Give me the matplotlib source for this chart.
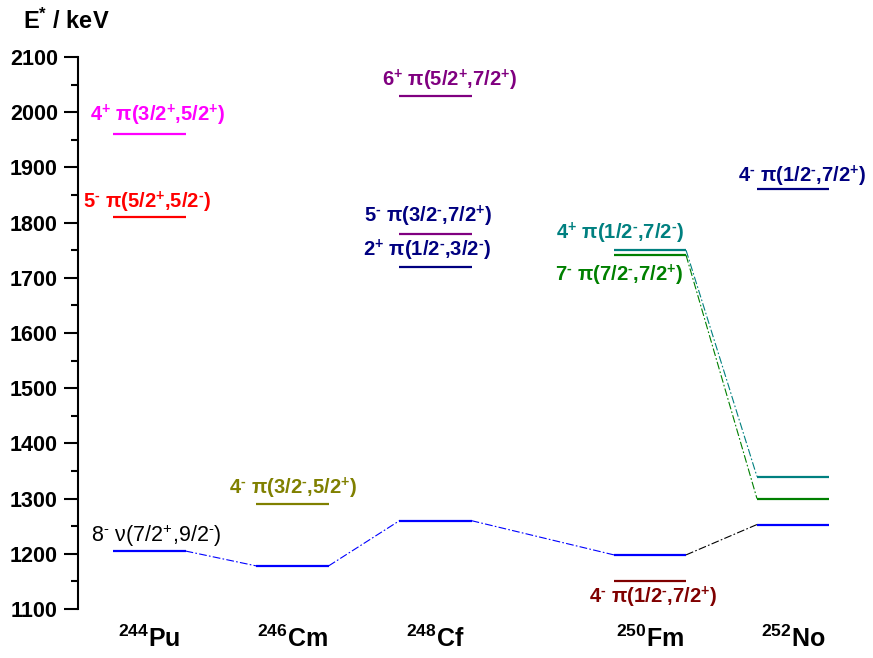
import matplotlib
matplotlib.use("Agg")
import matplotlib.pyplot as plt
from matplotlib.ticker import MultipleLocator

plt.rcParams['font.family'] = ['Liberation Sans', 'DejaVu Sans']
plt.rcParams['mathtext.fontset'] = 'custom'
plt.rcParams['mathtext.rm'] = 'Liberation Sans'
plt.rcParams['mathtext.bf'] = 'Liberation Sans:bold'
plt.rcParams['mathtext.it'] = 'Liberation Sans:italic'

# ---- data ----
mass_numbers = ["244", "246", "248", "250", "252"]
elements = ["Pu", "Cm", "Cf", "Fm", "No"]
nucleus_x = [0.0, 1.0, 2.0, 3.5, 4.5]

level_nucleus = [0, 0, 0, 1, 1, 2, 2, 2, 2, 3, 3, 3, 3, 4, 4, 4, 4]
level_energy = [1960, 1810, 1205, 1290, 1178, 2030, 1780, 1720, 1260,
                1750, 1741, 1198, 1150, 1860, 1340, 1300, 1253]
level_color = ["#FF00FF", "#FF0000", "#0000FF", "#808000", "#0000FF",
               "#800080", "#800080", "#000080", "#0000FF",
               "#008080", "#008000", "#0000FF", "#800000",
               "#000080", "#008080", "#008000", "#0000FF"]

# connections between levels (index pairs)
link_from = [2, 4, 8, 11, 9, 10]
link_to = [4, 8, 11, 16, 14, 15]
link_color = ["#0000FF", "#0000FF", "#0000FF", "#000000", "#008080", "#008000"]

H = "\u2010"  # short hyphen used as superscript minus
label_text = [
    r"$\mathbf{4^{+}\ \pi(3/2^{+}{,}5/2^{+})}$",
    r"$\mathbf{5^{%s}\ \pi(5/2^{+}{,}5/2^{%s})}$" % (H, H),
    r"$\mathrm{8^{%s}\ \nu(7/2^{+}{,}9/2^{%s})}$" % (H, H),
    r"$\mathbf{4^{%s}\ \pi(3/2^{%s}{,}5/2^{+})}$" % (H, H),
    r"$\mathbf{6^{+}\ \pi(5/2^{+}{,}7/2^{+})}$",
    r"$\mathbf{5^{%s}\ \pi(3/2^{%s}{,}7/2^{+})}$" % (H, H),
    r"$\mathbf{2^{+}\ \pi(1/2^{%s}{,}3/2^{%s})}$" % (H, H),
    r"$\mathbf{4^{+}\ \pi(1/2^{%s}{,}7/2^{%s})}$" % (H, H),
    r"$\mathbf{7^{%s}\ \pi(7/2^{%s}{,}7/2^{+})}$" % (H, H),
    r"$\mathbf{4^{%s}\ \pi(1/2^{%s}{,}7/2^{+})}$" % (H, H),
    r"$\mathbf{4^{%s}\ \pi(1/2^{%s}{,}7/2^{+})}$" % (H, H),
]
label_color = ["#FF00FF", "#FF0000", "#000000", "#808000", "#800080",
               "#000080", "#000080", "#008080", "#008000", "#000080", "#800000"]
label_size = [14.5, 14.5, 15.5, 14.5, 14.5, 14.5, 14.5, 14.5, 14.5, 14.5, 14.5]
label_x = [0.056, -0.014, 0.05, 1.007, 2.10, 1.95, 1.94, 3.29, 3.28, 4.56, 3.52]
label_y = [1995, 1837, 1232, 1319, 2058, 1812, 1750, 1781, 1705, 1883, 1122]

# ---- figure ----
fig = plt.figure(figsize=(8.73, 6.58), dpi=100)
ax = fig.add_axes([78/873, 49/658, 786.5/873, 552/658])
ax.set_xlim(-0.5, 5.0)
ax.set_ylim(1100, 2100)

half = 0.252
for n, e, c in zip(level_nucleus, level_energy, level_color):
    x = nucleus_x[n]
    ax.plot([x - half, x + half], [e, e], color=c, lw=1.6, clip_on=False,
            solid_capstyle='butt')

for a, b, c in zip(link_from, link_to, link_color):
    xa = nucleus_x[level_nucleus[a]] + half
    xb = nucleus_x[level_nucleus[b]] - half
    ax.plot([xa, xb], [level_energy[a], level_energy[b]], color=c, lw=0.8,
            linestyle=(0, (7, 2, 1.5, 2)), clip_on=False)

for t, c, s, x, y in zip(label_text, label_color, label_size, label_x, label_y):
    ax.text(x, y, t, color=c, fontsize=s, ha='center', va='center', clip_on=False)

for m, el, x in zip(mass_numbers, elements, nucleus_x):
    ax.text(x, 1046, r"$\mathbf{^{%s}%s}$" % (m, el), fontsize=18, ha='center',
            va='center', clip_on=False)

fig.text(23/873, 1 - 21/658, r"$\mathbf{E^{*}}$ / keV", fontsize=17, fontweight='bold',
         ha='left', va='center')

for s in ['top', 'right', 'bottom']:
    ax.spines[s].set_visible(False)
ax.spines['left'].set_linewidth(1.5)
ax.set_xticks([])
ax.yaxis.set_major_locator(MultipleLocator(100))
ax.yaxis.set_minor_locator(MultipleLocator(50))
ax.tick_params(axis='y', which='major', length=10, width=1.5, direction='out',
               labelsize=15.5, pad=4.5)
ax.tick_params(axis='y', which='minor', length=5, width=1.5, direction='out')
for lab in ax.get_yticklabels():
    lab.set_fontweight('bold')

fig.savefig("out.png", dpi=100)
